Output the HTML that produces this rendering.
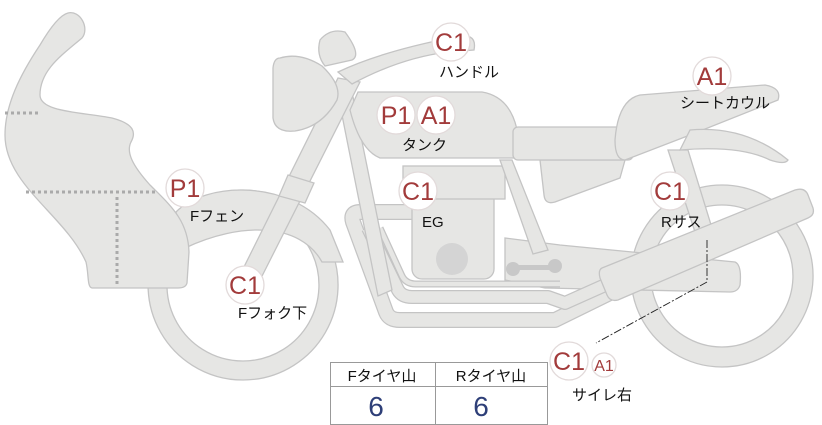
<!DOCTYPE html>
<html><head><meta charset="utf-8"><style>
html,body{margin:0;padding:0;background:#fff;}
svg{display:block;}
text{font-family:"Liberation Sans","Noto Sans CJK JP",sans-serif;}
.c{fill:#a23b3b;font-size:25px;text-anchor:middle;}
.l{fill:#111;font-size:15px;}
</style></head><body>
<svg width="822" height="425" viewBox="0 0 822 425" xmlns="http://www.w3.org/2000/svg">
<g fill="#e6e6e4" stroke="#c4c4c4" stroke-width="1.3">
<!-- rear wheel -->
<path fill-rule="evenodd" d="M722,185 a91,91 0 1,0 0.1,0 Z M722,205 a71,71 0 1,1 -0.1,0 Z"/>
<!-- front wheel -->
<path fill-rule="evenodd" d="M243,190 a95,95 0 1,0 0.1,0 Z M243,209 a76,76 0 1,1 -0.1,0 Z"/>
<!-- rear frame -->
<path d="M540,160 L625,160 L620,178 L555,202 Q545,205 544,195 Z"/>
<!-- rear shock -->
<path d="M668,150 L688,150 L712,228 L695,232 Z"/>
<!-- swingarm -->
<path d="M505,238 L560,245 L735,262 Q742,265 740,285 Q738,292 730,292 L545,288 L505,280 Z"/>
</g>
<!-- exhaust pipes (stroked bands) -->
<g fill="none" stroke-linejoin="round">
<path d="M412,212 L360,212 Q350,212 353,222 L386,312 Q389,320 400,320 L555,320 L612,292" stroke="#c4c4c4" stroke-width="16"/>
<path d="M412,212 L360,212 Q350,212 353,222 L386,312 Q389,320 400,320 L555,320 L612,292" stroke="#e6e6e4" stroke-width="13.5"/>
<path d="M368,228 L398,290 Q402,297 412,297 L548,297 L565,303 L612,282" stroke="#c4c4c4" stroke-width="14"/>
<path d="M368,228 L398,290 Q402,297 412,297 L548,297 L565,303 L612,282" stroke="#e6e6e4" stroke-width="11.5"/>
<path d="M380,228 L402,276 Q406,284 416,284 L560,284" stroke="#c4c4c4" stroke-width="7"/>
<path d="M380,228 L402,276 Q406,284 416,284 L560,284" stroke="#e6e6e4" stroke-width="4.5"/>
</g>
<g fill="#e6e6e4" stroke="#c4c4c4" stroke-width="1.3">
<!-- engine -->
<rect x="412" y="180" width="82" height="99" rx="10"/>
<rect x="403" y="166" width="102" height="33"/>
<!-- frame tubes -->
<path d="M338,95 L352,92 L392,290 L378,296 Z"/>
<path d="M500,160 L512,160 L548,250 L533,254 Z"/>
<!-- tank -->
<path d="M358,92 L482,92 Q512,97 518,135 L518,158 L380,158 Q360,150 350,110 Z"/>
<!-- seat -->
<rect x="513" y="127" width="120" height="33" rx="5"/>
<!-- seat cowl -->
<path d="M640,95 L765,85 Q782,88 778,100 L690,135 L625,160 Q615,160 615,140 Q618,100 640,95 Z"/>
<path d="M690,130 Q745,125 788,160 Q785,165 770,160 Q740,145 680,150 Z"/>
<!-- muffler -->
<path d="M602,268 L795,190 Q805,187 808,195 L813,208 Q815,215 808,218 L618,300 Q610,302 607,295 L600,278 Q598,270 602,268 Z"/>
<!-- front fender -->
<path d="M176,212 C205,182 290,178 330,230 L343,262 L322,262 C300,222 240,222 185,248 Z"/>
<!-- fairing -->
<path d="M68,13 C80,10 90,28 82,38 C62,55 40,70 40,95 C40,112 80,112 112,118 C135,124 136,133 131,142 C126,152 132,165 150,185 C170,205 188,220 189,252 L187,283 C186,287 182,288 178,288 L92,288 C87,287 89,275 86,262 C65,215 5,185 5,135 C5,105 20,75 40,45 C50,28 60,15 68,13 Z"/>
<!-- fork -->
<path d="M338,78 L360,82 L255,290 Q248,295 240,290 L236,283 Z"/>
<path d="M288,175 L314,183 L305,203 L279,196 Z"/>
<!-- headlight -->
<path d="M280,58 Q300,52 322,66 Q342,85 337,100 Q322,127 295,131 Q275,133 273,118 L273,68 Q274,58 280,58 Z"/>
<path d="M320,40 Q330,28 345,32 Q362,55 352,60 L325,66 Q316,55 320,40 Z"/>
<!-- handlebar -->
<path d="M338,72 Q380,52 450,38 L470,37 Q476,40 474,50 L448,52 Q400,58 352,84 Z"/>
</g>
<!-- engine circle & dumbbell -->
<circle cx="452" cy="259" r="16" fill="#d4d4d4"/>
<g fill="#c8c8c8"><circle cx="513" cy="269" r="7"/><circle cx="555" cy="266" r="7"/><rect x="513" y="265" width="42" height="5"/></g>
<!-- dashed lines -->
<g stroke="#aaaaaa" stroke-width="3" stroke-dasharray="3,3" fill="none">
<line x1="5" y1="113" x2="40" y2="113"/>
<line x1="26" y1="192" x2="155" y2="192"/>
<line x1="117" y1="197" x2="117" y2="285"/>
</g>
<!-- leader line -->
<path d="M707,240 L707,282 L596,343" fill="none" stroke="#222" stroke-width="0.9" stroke-dasharray="8,2,2,2"/>
<!-- badges -->
<g fill="#fff" stroke="#e2dada" stroke-width="1.3">
<circle cx="451" cy="42" r="19"/>
<circle cx="396" cy="115" r="19"/><circle cx="436" cy="115" r="19"/>
<circle cx="712" cy="76" r="19"/>
<circle cx="185" cy="188" r="19"/>
<circle cx="418" cy="191" r="19"/>
<circle cx="670" cy="191" r="19"/>
<circle cx="245" cy="285" r="19"/>
<circle cx="569" cy="361" r="19"/>
<circle cx="604" cy="365" r="12"/>
</g>
<g class="c">
<text x="451" y="51">C1</text>
<text x="396" y="124">P1</text><text x="436" y="124">A1</text>
<text x="712" y="85">A1</text>
<text x="185" y="197">P1</text>
<text x="418" y="200">C1</text>
<text x="670" y="200">C1</text>
<text x="245" y="294">C1</text>
<text x="569" y="370">C1</text>
<text x="604" y="371" style="font-size:16px">A1</text>
</g>
<g class="l">
<text x="439" y="77">ハンドル</text>
<text x="402" y="150">タンク</text>
<text x="680" y="108">シートカウル</text>
<text x="190" y="221">Fフェン</text>
<text x="422" y="227">EG</text>
<text x="661" y="227">Rサス</text>
<text x="238" y="318">Fフォク下</text>
<text x="572" y="400">サイレ右</text>
</g>
<!-- table -->
<g fill="none" stroke="#999" stroke-width="1">
<rect x="330.5" y="362.5" width="217" height="62"/>
<line x1="330" y1="386.5" x2="548" y2="386.5"/>
<line x1="435.5" y1="362" x2="435.5" y2="425"/>
</g>
<text x="382" y="381" class="l" text-anchor="middle">Fタイヤ山</text>
<text x="491" y="381" class="l" text-anchor="middle">Rタイヤ山</text>
<text x="376" y="416" style="font-size:28px;fill:#2e3f78" text-anchor="middle">6</text>
<text x="481" y="416" style="font-size:28px;fill:#2e3f78" text-anchor="middle">6</text>
</svg>
</body></html>
